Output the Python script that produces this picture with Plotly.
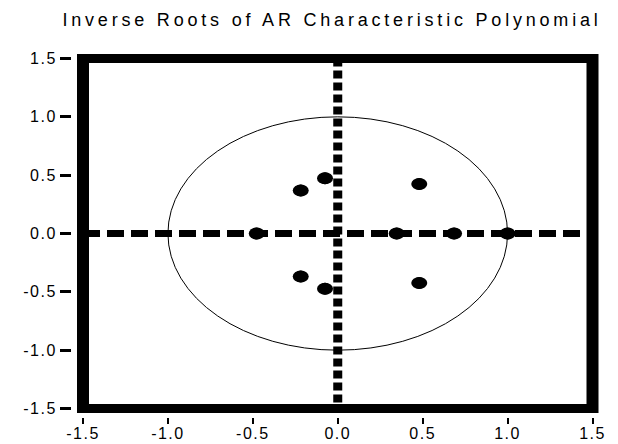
import plotly.graph_objects as go

root_re = [-0.075, -0.075, -0.218, -0.218, 0.48, 0.48, -0.477, 0.347, 0.685, 1.0]
root_im = [0.474, -0.474, 0.369, -0.369, 0.424, -0.424, 0.0, 0.0, 0.0, 0.0]

tick_vals = [-1.5, -1.0, -0.5, 0.0, 0.5, 1.0, 1.5]
tick_text = ["-1.5", "-1.0", "-0.5", "0.0", "0.5", "1.0", "1.5"]
title_text = "Inverse Roots of AR Characteristic Polynomial"

# the page body adds an 8px offset, so the figure is laid out 8px smaller
OFF = 8
W, H = 618 - OFF, 444 - OFF
ML, MT = 72 - OFF, 50 - OFF
MR = W - (604 - OFF)
MB = H - (417 - OFF)
PW, PH = W - ML - MR, H - MT - MB

# pixel positions of +-1.5 inside plot area (reference page coords minus offset)
x_lo_px, x_hi_px = (83 - OFF) - ML, (592.5 - OFF) - ML
y_top_px, y_bot_px = (58.5 - OFF) - MT, (408.5 - OFF) - MT
sx = (x_hi_px - x_lo_px) / 3.0
sy = (y_bot_px - y_top_px) / 3.0
xr = [-1.5 - x_lo_px / sx, 1.5 + (PW - x_hi_px) / sx]
yr = [-1.5 - (PH - y_bot_px) / sy, 1.5 + y_top_px / sy]

def spaced(t, sp):
    return '<span style="letter-spacing:%spx">%s</span>' % (sp, t)

fig = go.Figure()
fig.add_trace(go.Scatter(
    x=root_re, y=root_im, mode="markers",
    marker=dict(color="black", size=12, symbol="circle", line=dict(width=0)),
    showlegend=False, hoverinfo="x+y"))

shapes = []
# unit circle
shapes.append(dict(type="circle", xref="x", yref="y", x0=-1, x1=1, y0=-1, y1=1,
                   line=dict(color="black", width=1), layer="below"))
# dashed zero lines
shapes.append(dict(type="line", xref="x", yref="y", x0=-1.5, x1=1.5, y0=0, y1=0,
                   line=dict(color="black", width=7, dash="17px,7px")))
shapes.append(dict(type="line", xref="x", yref="y", x0=0, x1=0, y0=1.5, y1=-1.5,
                   line=dict(color="black", width=9, dash="8px,4px")))
# elliptical point markers
for xv, yv in zip(root_re, root_im):
    shapes.append(dict(type="circle", xref="x", yref="y",
                       xsizemode="pixel", ysizemode="pixel",
                       xanchor=xv, yanchor=yv, x0=-8, x1=8, y0=-6, y1=6,
                       fillcolor="black", line=dict(width=0)))
# thick frame
ext = 4.5 / sy
for xv in (-1.5, 1.5):
    shapes.append(dict(type="line", xref="x", yref="y", x0=xv, x1=xv,
                       y0=-1.5 - ext, y1=1.5 + ext, line=dict(color="black", width=12)))
for yv in (-1.5, 1.5):
    shapes.append(dict(type="line", xref="x", yref="y", x0=-1.5, x1=1.5,
                       y0=yv, y1=yv, line=dict(color="black", width=9)))

fig.update_layout(
    width=W, height=H,
    margin=dict(l=ML, r=MR, t=MT, b=MB, pad=0),
    paper_bgcolor="white", plot_bgcolor="white",
    font=dict(family="Liberation Sans, Arial, sans-serif", color="black", size=16),
    title=dict(text=spaced(title_text, 3.8), x=(332 - OFF) / W, xref="container", xanchor="center",
               y=1 - (20 - OFF) / H, yref="container", yanchor="middle",
               font=dict(size=18, color="black", family="Liberation Sans, Arial, sans-serif")),
    shapes=shapes,
    showlegend=False,
)
fig.update_xaxes(range=xr, tickvals=tick_vals, ticktext=[spaced(t, 1.5) for t in tick_text],
                 ticks="outside", ticklen=6, tickwidth=2, tickcolor="black", automargin=False,
                 ticklabelstandoff=-4,
                 showgrid=False, zeroline=False, showline=False, fixedrange=True)
fig.update_yaxes(range=yr, tickvals=tick_vals, ticktext=[spaced(t, 1.5) for t in tick_text],
                 ticks="outside", ticklen=11, tickwidth=2.5, tickcolor="black", automargin=False,
                 ticklabelstandoff=0,
                 showgrid=False, zeroline=False, showline=False, fixedrange=True)

fig.write_html("out.html")
